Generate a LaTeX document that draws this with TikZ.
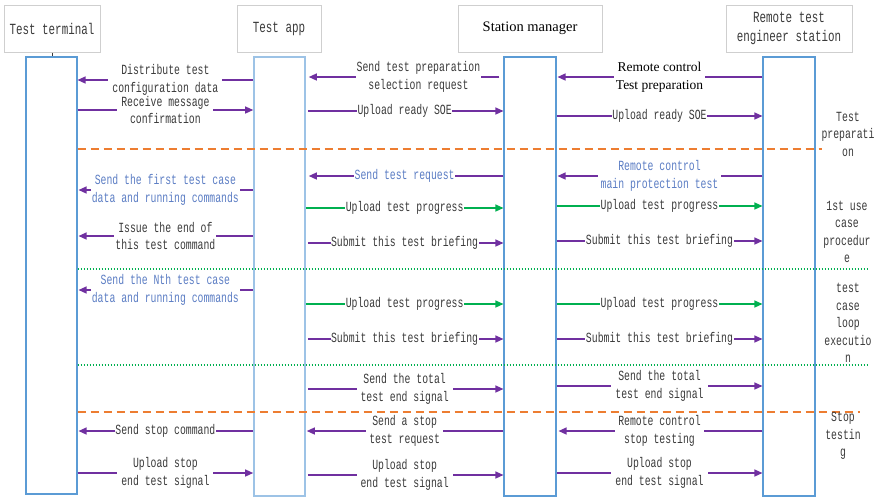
\documentclass[tikz,border=0pt]{standalone}
\usepackage{fontspec}
\setmainfont{Liberation Mono}[FakeStretch=0.7]
\newfontfamily\timesfont{Liberation Serif}
\usetikzlibrary{arrows.meta}

\definecolor{msgpurple}{HTML}{7030A0}
\definecolor{msggreen}{HTML}{00B050}
\definecolor{lifeblue}{HTML}{5B9BD5}
\definecolor{lifelight}{HTML}{9DC3E6}
\definecolor{headgray}{HTML}{CFCFCF}
\definecolor{txtgray}{HTML}{3A3A3A}
\definecolor{txtblue}{HTML}{5B7DC4}
\definecolor{phaseorange}{HTML}{ED7D31}

\newcommand{\lblfont}{\fontsize{14}{17.5}\selectfont}
\newcommand{\headfont}{\fontsize{15.5}{19}\selectfont}

\tikzset{
  head/.style={draw=headgray, line width=1pt, fill=white, text=txtgray,
    font=\headfont, align=center, minimum height=47pt, inner sep=2pt},
  life/.style={draw=lifeblue, line width=1.1pt, fill=white, minimum width=51pt, inner sep=0pt},
  msg/.style={draw=msgpurple, line width=1.3pt, -{Triangle[length=8pt,width=7pt]}},
  msgg/.style={draw=msggreen, line width=1.3pt, -{Triangle[length=8pt,width=7pt]}},
  lbl/.style={fill=white, inner xsep=2pt, inner ysep=0pt, text=txtgray, font=\lblfont, align=center},
  blbl/.style={lbl, text=txtblue},
  tlbl/.style={lbl, font=\timesfont\fontsize{13.5}{18}\selectfont, text=black},
  phase/.style={draw=phaseorange, line width=1.2pt, dash pattern=on 8pt off 5pt},
  cases/.style={draw=msggreen, line width=1.2pt, dash pattern=on 1.5pt off 1.5pt},
  side/.style={text=txtgray, font=\lblfont, align=center, inner sep=0pt, fill=white}
}

\begin{document}
\begin{tikzpicture}[x=1pt, y=-1pt]
\useasboundingbox (0,0) rectangle (879,496);

% participant headers
\node[head, minimum width=96pt] (hterm) at (52,28.5) {Test terminal};
\node[head, minimum width=84pt] (happ) at (279,28.5) {Test app};
\node[head, minimum width=144pt, font=\timesfont\fontsize{14.5}{19}\selectfont, text=black] (hstat) at (530,28.5) {Station manager};
\node[head, minimum width=126pt] (hrem) at (789,28.5) {Remote test\\engineer station};

% activation bars
\node[life, minimum height=437pt] (term) at (51.5,275.5) {};
\node[life, draw=lifelight, line width=1.6pt, minimum height=439pt] (app) at (279.5,276.5) {};
\node[life, minimum width=52pt, minimum height=439pt] (stat) at (530,276.5) {};
\node[life, minimum width=52pt, minimum height=439pt] (rem) at (789,276.5) {};
\draw[txtgray, line width=0.8pt] (hterm.south) -- (hterm.south |- term.north);

% phase separators
\draw[phase] (term.east |- 0,149) -- (866,149);
\draw[cases] (term.east |- 0,269) -- (868,269);
\draw[cases] (term.east |- 0,365) -- (868,365);
\draw[phase] (term.east |- 0,412) -- (860,412);

% test preparation
\draw[msg] (app.west |- 0,80) -- node[lbl, inner xsep=4pt]{Distribute test\\configuration data} (term.east |- 0,80);
\draw[msg, shorten <=4pt, shorten >=3pt] (stat.west |- 0,77) -- node[lbl, pos=0.43, inner xsep=1pt]{Send test preparation\\selection request} (app.east |- 0,77);
\draw[msg, shorten >=1pt] (rem.west |- 0,77) -- node[tlbl, inner xsep=2pt]{Remote control\\Test preparation} (stat.east |- 0,77);
\draw[msg] (term.east |- 0,110) -- node[lbl, inner xsep=4pt]{Receive message\\confirmation} (app.west |- 0,110);
\draw[msg, shorten <=2pt] (app.east |- 0,111) -- node[lbl, inner xsep=0.5pt]{Upload ready SOE} (stat.west |- 0,111);
\draw[msg] (stat.east |- 0,116) -- node[lbl, inner xsep=0.5pt]{Upload ready SOE} (rem.west |- 0,116);

% first test case
\draw[msg, shorten >=3pt] (stat.west |- 0,176) -- node[blbl, inner xsep=0.5pt]{Send test request} (app.east |- 0,176);
\draw[msg, shorten >=1pt] (rem.west |- 0,176) -- node[blbl, inner xsep=3pt]{Remote control\\main protection test} (stat.east |- 0,176);
\draw[msg, shorten >=1pt] (app.west |- 0,190) -- node[blbl, inner xsep=1pt]{Send the first test case\\data and running commands} (term.east |- 0,190);
\draw[msgg] (app.east |- 0,208) -- node[lbl, inner xsep=0.5pt]{Upload test progress} (stat.west |- 0,208);
\draw[msgg] (stat.east |- 0,206) -- node[lbl, inner xsep=0.5pt]{Upload test progress} (rem.west |- 0,206);
\draw[msg, shorten >=1pt] (app.west |- 0,236) -- node[lbl, inner xsep=1pt]{Issue the end of\\this test command} (term.east |- 0,236);
\draw[msg, shorten <=2pt] (app.east |- 0,243) -- node[lbl, inner xsep=0.5pt]{Submit this test briefing} (stat.west |- 0,243);
\draw[msg] (stat.east |- 0,241) -- node[lbl, inner xsep=0.5pt]{Submit this test briefing} (rem.west |- 0,241);

% n-th test case
\draw[msg, shorten >=1pt] (app.west |- 0,290) -- node[blbl, inner xsep=1pt]{Send the Nth test case\\data and running commands} (term.east |- 0,290);
\draw[msgg] (app.east |- 0,304) -- node[lbl, inner xsep=0.5pt]{Upload test progress} (stat.west |- 0,304);
\draw[msgg] (stat.east |- 0,304) -- node[lbl, inner xsep=0.5pt]{Upload test progress} (rem.west |- 0,304);
\draw[msg, shorten <=2pt] (app.east |- 0,339) -- node[lbl, inner xsep=0.5pt]{Submit this test briefing} (stat.west |- 0,339);
\draw[msg] (stat.east |- 0,339) -- node[lbl, inner xsep=0.5pt]{Submit this test briefing} (rem.west |- 0,339);

% end of all cases
\draw[msg, shorten <=2pt] (app.east |- 0,389) -- node[lbl, inner xsep=4pt]{Send the total\\test end signal} (stat.west |- 0,389);
\draw[msg] (stat.east |- 0,386) -- node[lbl, inner xsep=4pt]{Send the total\\test end signal} (rem.west |- 0,386);

% stop testing
\draw[msg, shorten >=1pt] (app.west |- 0,431) -- node[lbl, inner xsep=0.5pt]{Send stop command} (term.east |- 0,431);
\draw[msg, shorten >=1pt] (stat.west |- 0,431) -- node[lbl, inner xsep=3pt]{Send a stop\\test request} (app.east |- 0,431);
\draw[msg, shorten >=2pt] (rem.west |- 0,431) -- node[lbl, inner xsep=3pt]{Remote control\\stop testing} (stat.east |- 0,431);
\draw[msg] (term.east |- 0,473) -- node[lbl, inner xsep=4pt]{Upload stop\\end test signal} (app.west |- 0,473);
\draw[msg, shorten <=2pt] (app.east |- 0,475) -- node[lbl, inner xsep=4pt]{Upload stop\\end test signal} (stat.west |- 0,475);
\draw[msg] (stat.east |- 0,473) -- node[lbl, inner xsep=4pt]{Upload stop\\end test signal} (rem.west |- 0,473);

% phase names
\node[side] (ph1) at (848,134) {Test\\preparati\\on};
\node[side] (ph2) at (847,232) {1st use\\case\\procedur\\e};
\node[side] (ph3) at (848,323) {test\\case\\loop\\executio\\n};
\node[side, fill=none] (ph4) at (843,436) {Stop\\testin\\g};
\end{tikzpicture}
\end{document}
